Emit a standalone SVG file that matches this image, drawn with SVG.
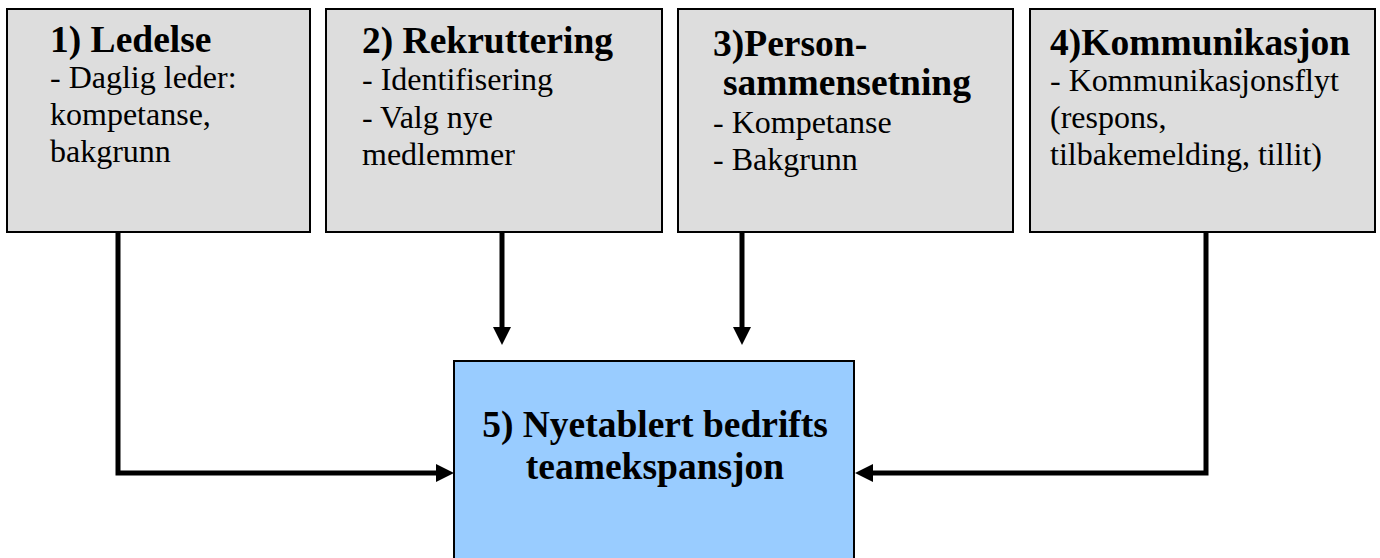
<svg xmlns="http://www.w3.org/2000/svg" width="1380" height="558" viewBox="0 0 1380 558">
<style>
.box{fill:#DDDDDD;stroke:#000;stroke-width:2}
.main{fill:#99CCFF;stroke:#000;stroke-width:2}
.t{font-family:"Liberation Serif","Times New Roman",serif;font-weight:bold;font-size:37.5px;fill:#000}
.b{font-family:"Liberation Serif","Times New Roman",serif;font-size:32px;fill:#000}
.c{fill:none;stroke:#000;stroke-width:5;stroke-linejoin:miter}
</style>
<defs>
<marker id="ah" markerUnits="userSpaceOnUse" markerWidth="18" markerHeight="18" refX="0" refY="9" orient="auto">
<path d="M0,0 L18,9 L0,18 z" fill="#000"/>
</marker>
</defs>
<g id="connectors">
<polyline class="c" points="118,233 118,473 436,473" marker-end="url(#ah)"/>
<line class="c" x1="502" y1="233" x2="502" y2="327" marker-end="url(#ah)"/>
<line class="c" x1="742" y1="233" x2="742" y2="327" marker-end="url(#ah)"/>
<polyline class="c" points="1206,233 1206,473 873,473" marker-end="url(#ah)"/>
</g>
<g id="node1">
<rect class="box" x="7" y="9" width="303" height="223"/>
<text class="t" x="50" y="52">1) Ledelse</text>
<text class="b" x="50" y="88">- Daglig leder:</text>
<text class="b" x="50" y="125">kompetanse,</text>
<text class="b" x="50" y="162">bakgrunn</text>
</g>
<g id="node2">
<rect class="box" x="326" y="9" width="336" height="223"/>
<text class="t" x="362" y="53">2) Rekruttering</text>
<text class="b" x="362" y="90">- Identifisering</text>
<text class="b" x="362" y="128">- Valg nye</text>
<text class="b" x="362" y="165">medlemmer</text>
</g>
<g id="node3">
<rect class="box" x="678" y="9" width="335" height="223"/>
<text class="t" x="713" y="56">3)Person-</text>
<text class="t" x="723" y="95">sammensetning</text>
<text class="b" x="713" y="133">- Kompetanse</text>
<text class="b" x="713" y="170">- Bakgrunn</text>
</g>
<g id="node4">
<rect class="box" x="1030" y="9" width="345" height="223"/>
<text class="t" x="1050" y="55">4)Kommunikasjon</text>
<text class="b" x="1050" y="91">- Kommunikasjonsflyt</text>
<text class="b" x="1050" y="128">(respons,</text>
<text class="b" x="1050" y="165">tilbakemelding, tillit)</text>
</g>
<g id="node5">
<rect class="main" x="454" y="361" width="400" height="210"/>
<text class="t" x="655" y="437" text-anchor="middle" font-size="38.5">5) Nyetablert bedrifts</text>
<text class="t" x="655" y="479" text-anchor="middle" font-size="38.5">teamekspansjon</text>
</g>
</svg>
